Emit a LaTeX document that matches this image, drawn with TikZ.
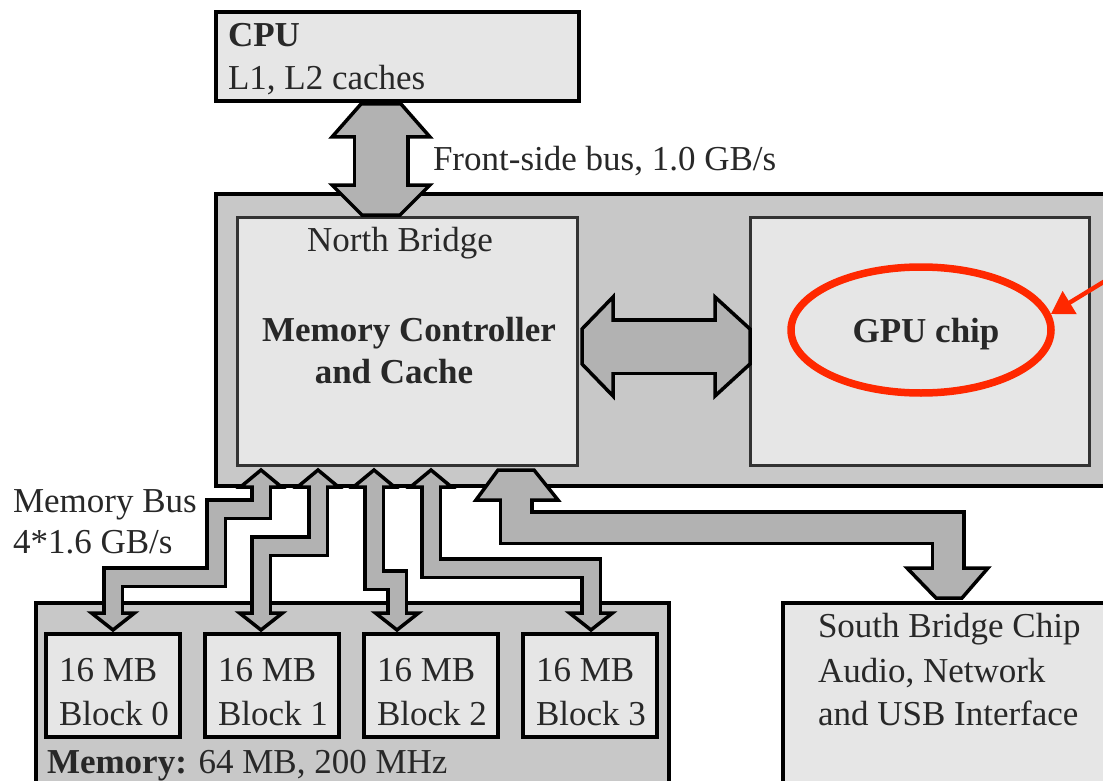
\documentclass[tikz,border=0pt]{standalone}
\usepackage{fontspec}
\setmainfont{Liberation Serif}
\usetikzlibrary{arrows.meta,shapes.geometric}
\definecolor{outerg}{RGB}{200,200,200}
\definecolor{innerg}{RGB}{230,230,230}
\definecolor{arrg}{RGB}{178,178,178}
\definecolor{txt}{RGB}{40,40,40}
\definecolor{redc}{RGB}{255,40,0}
\begin{document}
\begin{tikzpicture}[x=0.5pt,y=-0.5pt,
  every node/.style={inner sep=0pt, outer sep=0pt},
  lbl/.style={font=\fontsize{17.5}{21}\selectfont, text=txt},
  blbl/.style={font=\fontsize{17.5}{21}\selectfont\bfseries, text=txt},
  outerbox/.style={draw=black, fill=outerg, line width=2.25pt, anchor=north west},
  lightbox/.style={draw=black, fill=innerg, line width=2.25pt, anchor=north west},
  chipbox/.style={draw=black!80, fill=innerg, line width=1.5pt, anchor=north west},
  busout/.style={draw=black, line width=#1, line join=miter},
  busin/.style={draw=arrg, line width=#1, line join=miter, shorten <=-1.5pt, shorten >=-1.5pt},
  head/.style={fill=arrg, draw=black, line width=1.75pt, line join=miter},
]
\useasboundingbox (0,0) rectangle (1103,781);
\fill[white] (0,0) rectangle (1103,781);
\clip (0,0) rectangle (1103,781);

% boxes
\node[lightbox, minimum width=181.5pt, minimum height=44.5pt] (cpu) at (216,12) {};
\node[outerbox, minimum width=542pt, minimum height=146pt] (nb) at (216,194) {};
\node[chipbox, minimum width=170pt, minimum height=124pt] (nbin) at (237,217) {};
\node[chipbox, minimum width=169.5pt, minimum height=124pt] (gpu) at (750,217) {};
\node[outerbox, minimum width=316.5pt, minimum height=108.5pt] (mem) at (36,603) {};
\foreach \x/\k in {46/0,205/1,364/2,523/3}
  \node[lightbox, minimum width=67pt, minimum height=51.5pt] (blk\k) at (\x,634) {};
\node[lightbox, minimum width=258.5pt, minimum height=108.5pt] (sb) at (783,603) {};

% texts
\node[blbl, anchor=base west] (cpuname) at (228,47) {CPU};
\node[lbl, anchor=base west] (cpucache) at (228,90) {L1, L2 caches};
\node[lbl, anchor=base west] (fsblbl) at (433,170) {Front-side bus, 1.0 GB/s};
\node[lbl, anchor=base] (nbname) at (400,251) {North Bridge};
\node[blbl, anchor=base] (mc1) at (409,341) {Memory Controller};
\node[blbl, anchor=base] (mc2) at (394,383) {and Cache};
\node[blbl, anchor=base] (gpuname) at (926,342) {GPU chip};
\node[lbl, anchor=base west] (mbl1) at (13,512) {Memory Bus};
\node[lbl, anchor=base west] (mbl2) at (13,553) {4*1.6 GB/s};
\foreach \x/\k in {59/0,218/1,377/2,536/3}{
  \node[lbl, anchor=base west] (bs\k) at (\x,681) {16 MB};
  \node[lbl, anchor=base west] (bn\k) at (\x,725) {Block \k};
}
\node[lbl, anchor=base west] (memlbl) at (47,773) {\textbf{Memory:} 64 MB, 200 MHz};
\node[lbl, anchor=base west] (sb1) at (818,637) {South Bridge Chip};
\node[lbl, anchor=base west] (sb2) at (818,682) {Audio, Network};
\node[lbl, anchor=base west] (sb3) at (818,725) {and USB Interface};

% front-side bus
\coordinate (fsbA) at (381,137); \coordinate (fsbB) at (381,185);
\draw[busout=28.5pt] (fsbA) -- (fsbB);
\draw[head] (332,137) -- (361,104) -- (401,104) -- (430,137) -- cycle;
\draw[head] (332,185) -- (430,185) -- (400,215) -- (362,215) -- cycle;
\draw[busin=25pt] (fsbA) -- (fsbB);

% north bridge <-> gpu
\coordinate (ngA) at (613,346.5); \coordinate (ngB) at (715,346.5);
\draw[busout=28.5pt] (ngA) -- (ngB);
\draw[head] (613,297) -- (582,329) -- (582,364) -- (613,396) -- cycle;
\draw[head] (715,297) -- (750,329) -- (750,364) -- (715,396) -- cycle;
\draw[busin=25pt] (ngA) -- (ngB);

% south bridge link
\coordinate (sbA) at (516,500); \coordinate (sbB) at (948,568);
\draw[busout=17.5pt] (sbA) -- (516,527.5) -- (948,527.5) -- (sbB);
\draw[head] (476,500) -- (498,470) -- (534,470) -- (558,500) -- cycle;
\draw[head] (907,568) -- (988,568) -- (962,598) -- (936,598) -- cycle;
\draw[busin=14pt] (sbA) -- (516,527.5) -- (948,527.5) -- (sbB);

% memory bus
\coordinate (m1a) at (261,487); \coordinate (m1b) at (113,613);
\coordinate (m2a) at (318,487); \coordinate (m2b) at (261,613);
\coordinate (m3a) at (374,487); \coordinate (m3b) at (397,613);
\coordinate (m4a) at (431,487); \coordinate (m4b) at (591,613);
\draw[busout=11pt] (m1a) -- (261,509) -- (216,509) -- (216,577) -- (113,577) -- (m1b);
\draw[busout=11pt] (m2a) -- (318,546) -- (261,546) -- (m2b);
\draw[busout=11pt] (m3a) -- (374,580) -- (397,580) -- (m3b);
\draw[busout=11pt] (m4a) -- (431,568) -- (591,568) -- (m4b);
\foreach \c in {261,318,374,431}
  \draw[head] (\c-20.5,487) -- (\c,470) -- (\c+20.5,487) -- cycle;
\foreach \c in {113,261,397,591}
  \draw[head] (\c-21.5,613) -- (\c,630) -- (\c+21.5,613) -- cycle;
\draw[busin=7.5pt] (m1a) -- (261,509) -- (216,509) -- (216,577) -- (113,577) -- (m1b);
\draw[busin=7.5pt] (m2a) -- (318,546) -- (261,546) -- (m2b);
\draw[busin=7.5pt] (m3a) -- (374,580) -- (397,580) -- (m3b);
\draw[busin=7.5pt] (m4a) -- (431,568) -- (591,568) -- (m4b);

% red highlight
\node[ellipse, draw=redc, line width=3.75pt, minimum width=130pt, minimum height=63pt, outer sep=1.9pt] (ring) at (921,330) {};
\coordinate (redfrom) at (1110,278);
\draw[redc, line width=2.2pt, -{Triangle[length=11pt,width=13pt]}] (redfrom) -- (ring.7);
\end{tikzpicture}
\end{document}
